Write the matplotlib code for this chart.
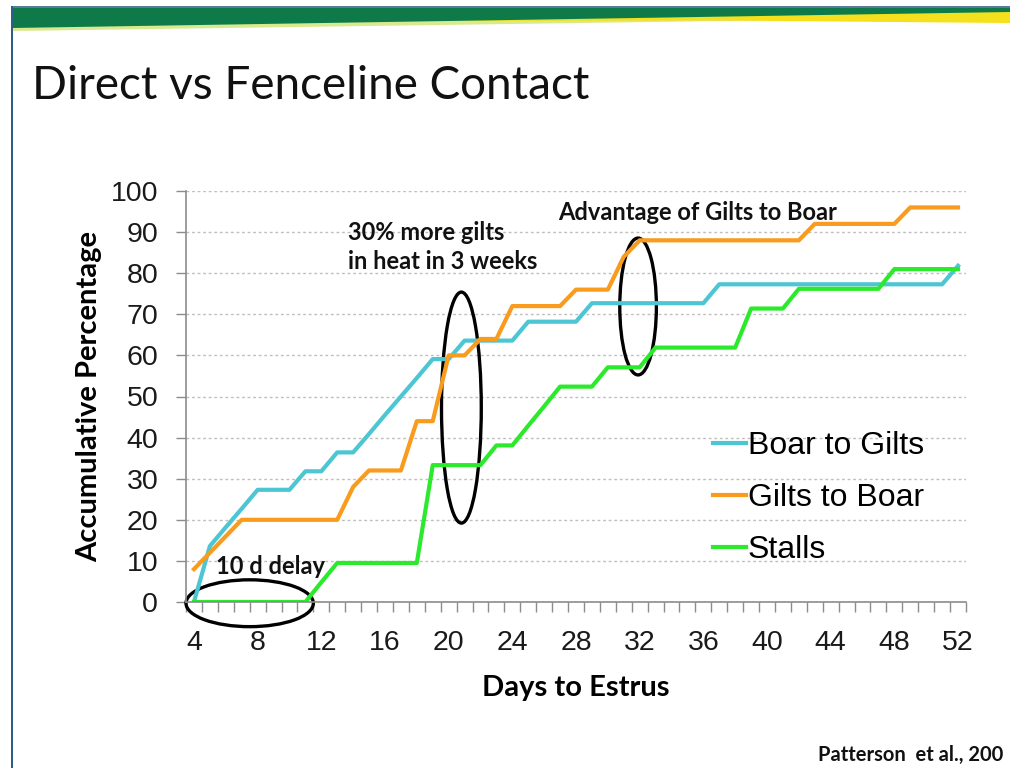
import matplotlib
matplotlib.use('Agg')
import matplotlib.pyplot as plt
import numpy as np
from matplotlib.patches import Ellipse, Polygon, Rectangle

# Data (days 4..52, accumulative % in estrus)
days = list(range(4, 53))
boar_to_gilts = [0, 13.6, 18.2, 22.7, 27.3, 27.3, 27.3, 31.8, 31.8, 36.4, 36.4,
                 40.9, 45.5, 50.0, 54.5, 59.1, 59.1, 63.6, 63.6, 63.6, 63.6,
                 68.2, 68.2, 68.2, 68.2, 72.7,
                 72.7, 72.7, 72.7, 72.7, 72.7, 72.7, 72.7,
                 77.3, 77.3, 77.3, 77.3, 77.3, 77.3, 77.3, 77.3, 77.3, 77.3,
                 77.3, 77.3, 77.3, 77.3, 77.3,
                 81.8]
gilts_to_boar = [8, 12, 16, 20,
                 20, 20, 20, 20, 20, 20,
                 28, 32, 32, 32, 44, 44, 60, 60, 64, 64, 72, 72, 72, 72, 76, 76, 76, 84,
                 88, 88, 88, 88, 88, 88, 88, 88, 88, 88, 88,
                 92, 92, 92, 92, 92, 92,
                 96, 96, 96, 96]
stalls = [0, 0, 0, 0, 0, 0, 0, 0,
          4.8, 9.5,
          9.5, 9.5, 9.5, 9.5, 9.5,
          33.3, 33.3, 33.3, 33.3,
          38.1, 38.1, 42.9, 47.6, 52.4, 52.4, 52.4,
          57.1, 57.1, 57.1, 61.9,
          61.9, 61.9, 61.9, 61.9, 61.9,
          71.4, 71.4, 71.4, 76.2,
          76.2, 76.2, 76.2, 76.2, 76.2,
          81.0, 81.0, 81.0, 81.0, 81.0]
series_names = ['Boar to Gilts', 'Gilts to Boar', 'Stalls']
x_ticks = list(range(4, 53, 4))
y_ticks = list(range(0, 101, 10))

COLORS = {
    'cyan': '#4BC6D2',
    'orange': '#F99B1C',
    'green': '#2BEA2B',
    'grid': '#BFBFBF',
    'axis': '#8C8C8C',
}

W, H = 1010, 768
fig = plt.figure(figsize=(W / 100, H / 100), dpi=100)
fig.patch.set_facecolor('white')


def fx(px):
    return px / W


def fy(py):
    return 1 - py / H


def poly(points, **kw):
    fig.patches.append(Polygon([(fx(x), fy(y)) for x, y in points], closed=True,
                               transform=fig.transFigure, edgecolor='none', **kw))


# Slide decoration: top green/yellow banner and left border
poly([(12, 26), (1010, 11), (1010, 17), (12, 31)], facecolor='#D9EA8E')
poly([(420, 21), (1010, 11), (1010, 23), (720, 20.5)], facecolor='#F4E01C')
poly([(12, 7), (1010, 7), (1010, 12), (12, 28)], facecolor='#0E7A4A')
fig.patches.append(Rectangle((fx(11), fy(7.5)), fx(999), 1.5 / H, transform=fig.transFigure,
                             facecolor='#5A7A98', edgecolor='none'))
fig.patches.append(Rectangle((fx(10.5), 0), 2 / W, fy(6), transform=fig.transFigure,
                             facecolor='#2F5D8A', edgecolor='none'))

# Chart axes
ax = fig.add_axes([fx(186), fy(602), fx(966) - fx(186), (602 - 191) / H])
ax.plot(days, boar_to_gilts, color=COLORS['cyan'], lw=3, label=series_names[0])
ax.plot(days, gilts_to_boar, color=COLORS['orange'], lw=3, label=series_names[1])
ax.plot(days, stalls, color=COLORS['green'], lw=3, label=series_names[2])

ax.set_xlim(3.5, 52.5)
ax.set_ylim(0, 100)
ax.set_xticks(x_ticks)
ax.set_xticks(np.arange(3.5, 53, 1), minor=True)
ax.set_yticks(y_ticks)
ax.tick_params(axis='x', which='major', length=0, pad=20, labelsize=20.5)
ax.tick_params(axis='x', which='minor', length=7, width=1, color=COLORS['axis'], direction='out')
ax.tick_params(axis='y', which='major', length=7, width=1, color=COLORS['axis'], pad=13, labelsize=20.5)
for lab in ax.get_xticklabels() + ax.get_yticklabels():
    lab.set_fontfamily('Liberation Sans')
    lab.set_color('#1a1a1a')

for side in ['top', 'right']:
    ax.spines[side].set_visible(False)
ax.spines['left'].set_color(COLORS['axis'])
ax.spines['bottom'].set_color(COLORS['axis'])
ax.spines['left'].set_linewidth(1.2)
ax.spines['bottom'].set_linewidth(1.2)
ax.yaxis.grid(True, color=COLORS['grid'], linestyle=(0, (2, 2)), linewidth=1)
ax.set_axisbelow(True)

ax.set_ylabel('Accumulative Percentage', fontfamily='Lato', fontweight='bold', fontsize=21, labelpad=6)
ax.set_xlabel('Days to Estrus', fontfamily='Lato', fontweight='bold', fontsize=21, labelpad=14)

leg = ax.legend(loc='upper left', bbox_to_anchor=((700 - 186) / 780, (602 - 418) / 411),
                frameon=False, handlelength=1.05, handletextpad=0.05, labelspacing=0.7,
                borderaxespad=0, prop={'family': 'Liberation Sans', 'size': 23})

# Annotation ellipses
ell_kw = dict(fill=False, edgecolor='black', linewidth=2.4, clip_on=False)
ax.add_patch(Ellipse((7.5, -0.3), 8.0, 11.4, **ell_kw))
ax.add_patch(Ellipse((20.8, 47.3), 2.5, 56.2, **ell_kw))
ax.add_patch(Ellipse((31.9, 71.9), 2.3, 33.3, **ell_kw))

# Annotation text
txt_kw = dict(fontfamily='Lato', fontweight='bold', color='#111111', transform=fig.transFigure)
fig.text(fx(216), fy(567), '10 d delay', fontsize=17, va='center', ha='left', **txt_kw)
fig.text(fx(348), fy(247), '30% more gilts\nin heat in 3 weeks', fontsize=17, va='center', ha='left',
         linespacing=1.3, **txt_kw)
fig.text(fx(558), fy(213), 'Advantage of Gilts to Boar', fontsize=17, va='center', ha='left', **txt_kw)
fig.text(fx(818), fy(755), 'Patterson  et al., 200', fontsize=14.5, va='center', ha='left', **txt_kw)

# Slide title
fig.text(fx(32), fy(86), 'Direct vs Fenceline Contact', fontfamily='Lato', fontsize=33,
         color='#111111', va='center', ha='left', transform=fig.transFigure)

fig.savefig('out.png', dpi=100, facecolor='white')
